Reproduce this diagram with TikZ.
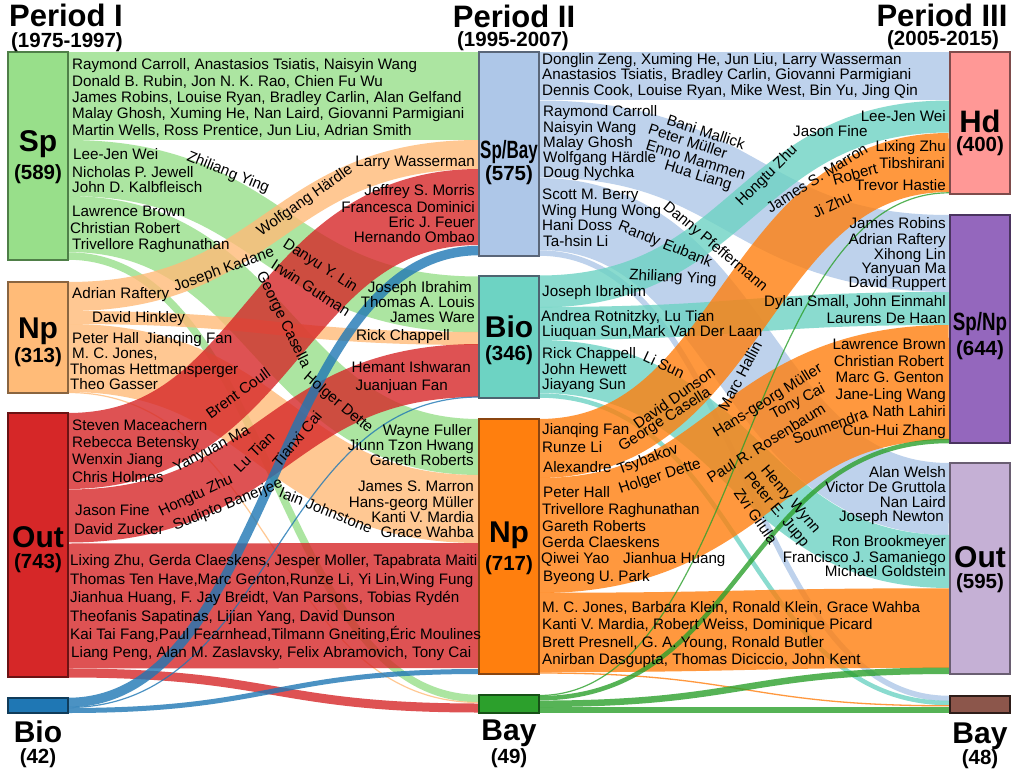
\documentclass[tikz,border=0pt]{standalone}
\usepackage{fontspec}
\setmainfont{Liberation Sans}
\usepackage{graphicx}
\definecolor{cSp}{HTML}{98DF8A}\definecolor{cSpD}{HTML}{4F7F48}
\definecolor{cNpA}{HTML}{FFBB78}\definecolor{cNpAD}{HTML}{8A6540}
\definecolor{cOutA}{HTML}{D62728}\definecolor{cOutAD}{HTML}{6B1314}
\definecolor{cBioA}{HTML}{1F77B4}\definecolor{cBioAD}{HTML}{103C5A}
\definecolor{cSpBay}{HTML}{AEC7E8}\definecolor{cSpBayD}{HTML}{5A6678}
\definecolor{cBioB}{HTML}{6DD3C3}\definecolor{cBioBD}{HTML}{4D6470}
\definecolor{cNpB}{HTML}{FF7F0E}\definecolor{cNpBD}{HTML}{8A4510}
\definecolor{cBayB}{HTML}{2CA02C}\definecolor{cBayBD}{HTML}{175117}
\definecolor{cHd}{HTML}{FF9896}\definecolor{cHdD}{HTML}{7F4C4B}
\definecolor{cSpNp}{HTML}{9467BD}\definecolor{cSpNpD}{HTML}{4A345F}
\definecolor{cOutC}{HTML}{C5B0D5}\definecolor{cOutCD}{HTML}{6A5F72}
\definecolor{cBayC}{HTML}{8C564B}\definecolor{cBayCD}{HTML}{2E1D19}
\tikzset{
 lk/.style={draw opacity=0.8, line cap=butt},
 box/.style={line width=2pt, inner sep=0pt, minimum width=60pt},
 nm/.style={font=\fontsize{15.2}{16}\selectfont, inner sep=0pt, anchor=base west, text=black},
 nmr/.style={nm, anchor=base east},
 rl/.style={font=\fontsize{15.2}{16}\selectfont, inner sep=0pt, anchor=center, text=black},
 big/.style={font=\fontsize{30}{30}\selectfont\bfseries, inner sep=0pt, anchor=base},
 ttl/.style={font=\fontsize{31}{31}\selectfont\bfseries, inner sep=0pt, anchor=base},
 cnt/.style={font=\fontsize{20.5}{21}\selectfont\bfseries, inner sep=0pt, anchor=base},
}
\newcommand\lkA[4]{\draw[lk,#1,line width=#4pt] (68,#2) .. controls (273.5,#2) and (273.5,#3) .. (479,#3);}
\newcommand\lkB[4]{\draw[lk,#1,line width=#4pt] (539,#2) .. controls (744,#2) and (744,#3) .. (949,#3);}
\begin{document}
\begin{tikzpicture}[x=1pt,y=-1pt]
\useasboundingbox (0,0) rectangle (1012,773);
\fill[white] (0,0) rectangle (1012,773);
% ---- links period I -> II
\lkA{cSp}{96}{96}{88}
\lkA{cSp}{168}{304.5}{56}
\lkA{cSp}{224}{447}{56}
\lkA{cSp}{256}{698.5}{7.5}
\lkA{cNpA}{296.5}{154.5}{29}
\lkA{cNpA}{317.5}{338.5}{13}
\lkA{cNpA}{358}{509}{68}
\lkA{cNpA}{392.5}{702.5}{1.2}
\lkA{cOutA}{451}{207}{76}
\lkA{cOutA}{516}{370.5}{53}
\lkA{cOutA}{606}{605.5}{125}
\lkA{cOutA}{673}{708}{9}
\lkA{cBioA}{702.5}{250.5}{9.5}
\lkA{cBioA}{707.5}{397}{1.2}
\lkA{cBioA}{710.5}{671.5}{5}
% ---- links period II -> III
\lkB{cSpBay}{76}{76}{48}
\lkB{cSpBay}{139}{253.5}{77}
\lkB{cSpBay}{214}{499}{72}
\lkB{cSpBay}{253}{698.5}{5.5}
\lkB{cBioB}{291.5}{116.5}{32}
\lkB{cBioB}{323.5}{308.5}{33}
\lkB{cBioB}{366.5}{561.5}{53}
\lkB{cBioB}{395.5}{703}{4.5}
\lkB{cNpB}{448.5}{162.5}{59}
\lkB{cNpB}{535.5}{382.5}{115}
\lkB{cNpB}{632.5}{628}{79.5}
\lkB{cNpB}{673}{705.8}{1.3}
\lkB{cBayB}{695.5}{192.8}{1.2}
\lkB{cBayB}{698.2}{441}{4.5}
\lkB{cBayB}{703.8}{670.8}{6.5}
\lkB{cBayB}{710}{710}{6}
% ---- boxes
\node[box, fill=cSp, draw=cSpD, minimum height=208pt] (sp1) at (38,156) {};
\node[box, fill=cNpA, draw=cNpAD, minimum height=111pt] (np1) at (38,337.5) {};
\node[box, fill=cOutA, draw=cOutAD, minimum height=264pt] (out1) at (38,545) {};
\node[box, fill=cBioA, draw=cBioAD, minimum height=15pt] (bio1) at (38,705.5) {};
\node[box, fill=cSpBay, draw=cSpBayD, minimum height=204pt] (spbay2) at (509,154) {};
\node[box, fill=cBioB, draw=cBioBD, minimum height=122pt] (bio2) at (509,337) {};
\node[box, fill=cNpB, draw=cNpBD, minimum height=255pt] (np2) at (509,546.5) {};
\node[box, fill=cBayB, draw=cBayBD, minimum height=18pt] (bay2) at (509,704) {};
\node[box, fill=cHd, draw=cHdD, minimum height=142pt] (hd3) at (980,123) {};
\node[box, fill=cSpNp, draw=cSpNpD, minimum height=228pt] (spnp3) at (980,329) {};
\node[box, fill=cOutC, draw=cOutCD, minimum height=211pt] (out3) at (980,568.5) {};
\node[box, fill=cBayC, draw=cBayCD, minimum height=17pt] (bay3) at (980,704.5) {};
% ---- titles
\node[ttl] (p1) at (66,27) {Period I};
\node[cnt] (y1) at (67,48) {(1975-1997)};
\node[ttl] (p2) at (514,28) {Period II};
\node[cnt] (y2) at (513,47) {(1995-2007)};
\node[ttl] (p3) at (942,27) {Period III};
\node[cnt] (y3) at (943,46) {(2005-2015)};
% ---- box labels
\node[big] (lsp1) at (38,152) {Sp};
\node[cnt] (csp1) at (38,179) {(589)};
\node[big] (lnp1) at (38,338) {Np};
\node[cnt] (cnp1) at (38,362) {(313)};
\node[big] (lout1) at (38,547) {Out};
\node[cnt] (cout1) at (38,568) {(743)};
\node[big] (lbio1) at (38,742) {Bio};
\node[cnt] (cbio1) at (38,763) {(42)};
\node[big, font=\fontsize{25}{25}\selectfont\bfseries] (lspbay2) at (509,158) {\scalebox{0.68}[1]{Sp/Bay}};
\node[cnt] (cspbay2) at (509,180) {(575)};
\node[big] (lbio2) at (509,337) {Bio};
\node[cnt] (cbio2) at (509,360) {(346)};
\node[big] (lnp2) at (509,542) {Np};
\node[cnt] (cnp2) at (509,570) {(717)};
\node[big] (lbay2) at (509,740) {Bay};
\node[cnt] (cbay2) at (509,763) {(49)};
\node[big, font=\fontsize{31}{31}\selectfont\bfseries] (lhd3) at (980,132) {Hd};
\node[cnt] (chd3) at (980,151) {(400)};
\node[big, font=\fontsize{25}{25}\selectfont\bfseries] (lspnp3) at (980,330) {\scalebox{0.75}[1]{Sp/Np}};
\node[cnt] (cspnp3) at (980,355) {(644)};
\node[big] (lout3) at (980,567) {Out};
\node[cnt] (cout3) at (980,588) {(595)};
\node[big] (lbay3) at (980,743) {Bay};
\node[cnt] (cbay3) at (980,764) {(48)};
% ---- names, period I
\node[nm] (a1) at (72,70) {Raymond Carroll, Anastasios Tsiatis, Naisyin Wang};
\node[nm] (a2) at (72,86.5) {Donald B. Rubin, Jon N. K. Rao, Chien Fu Wu};
\node[nm] (a3) at (72,103) {James Robins, Louise Ryan, Bradley Carlin, Alan Gelfand};
\node[nm] (a4) at (72,119) {Malay Ghosh, Xuming He, Nan Laird, Giovanni Parmigiani};
\node[nm] (a5) at (72,135.5) {Martin Wells, Ross Prentice, Jun Liu, Adrian Smith};
\node[nm] (a6) at (73,160) {Lee-Jen Wei};
\node[nm] (a7) at (72,177) {Nicholas P. Jewell};
\node[nm] (a8) at (72,193) {John D. Kalbfleisch};
\node[nm] (a9) at (72,216) {Lawrence Brown};
\node[nm] (a10) at (70,233) {Christian Robert};
\node[nm] (a11) at (72,249) {Trivellore Raghunathan};
\node[nm] (b1) at (72,298) {Adrian Raftery};
\node[nm] (b2) at (92,322) {David Hinkley};
\node[nm] (b3) at (72,343) {Peter Hall};
\node[nm] (b4) at (145,343) {Jianqing Fan};
\node[nm] (b5) at (72,358) {M. C. Jones,};
\node[nm] (b6) at (70,374) {Thomas Hettmansperger};
\node[nm] (b7) at (70,389) {Theo Gasser};
\node[nm] (c1) at (72,430) {Steven Maceachern};
\node[nm] (c2) at (72,447) {Rebecca Betensky};
\node[nm] (c3) at (72,464) {Wenxin Jiang};
\node[nm] (c4) at (72,482) {Chris Holmes};
\node[nm] (c5) at (75,515) {Jason Fine};
\node[nm] (c6) at (74,534) {David Zucker};
\node[nm] (c7) at (70,565) {Lixing Zhu, Gerda Claeskens, Jesper Moller, Tapabrata Maiti};
\node[nm] (c8) at (70,584) {Thomas Ten Have,Marc Genton,Runze Li, Yi Lin,Wing Fung};
\node[nm] (c9) at (70,602) {Jianhua Huang, F. Jay Breidt, Van Parsons, Tobias Rydén};
\node[nm] (c10) at (70,621) {Theofanis Sapatinas, Lijian Yang, David Dunson};
\node[nm] (c11) at (70,639) {Kai Tai Fang,Paul Fearnhead,Tilmann Gneiting,Éric Moulines};
\node[nm] (c12) at (71,657) {Liang Peng, Alan M. Zaslavsky, Felix Abramovich, Tony Cai};
% ---- names, entering period II
\node[nmr] (d1) at (475,166) {Larry Wasserman};
\node[nmr] (d2) at (475,195) {Jeffrey S. Morris};
\node[nmr] (d3) at (475,212) {Francesca Dominici};
\node[nmr] (d4) at (475,227) {Eric J. Feuer};
\node[nmr] (d5) at (475,242) {Hernando Ombao};
\node[nmr] (d6) at (472,292) {Joseph Ibrahim};
\node[nmr] (d7) at (475,307) {Thomas A. Louis};
\node[nmr] (d8) at (475,322) {James Ware};
\node[nmr] (d9) at (450,340) {Rick Chappell};
\node[nmr] (d10) at (471,372) {Hemant Ishwaran};
\node[nmr] (d11) at (448,390) {Juanjuan Fan};
\node[nmr] (d12) at (472,435) {Wayne Fuller};
\node[nmr] (d13) at (474,450) {Jiunn Tzon Hwang};
\node[nmr] (d14) at (474,465) {Gareth Roberts};
\node[nmr] (d15) at (474,491) {James S. Marron};
\node[nmr] (d16) at (474,507) {Hans-georg Müller};
\node[nmr] (d17) at (474,522) {Kanti V. Mardia};
\node[nmr] (d18) at (474,537) {Grace Wahba};
% ---- names, leaving period II
\node[nm] (e1) at (542,65) {Donglin Zeng, Xuming He, Jun Liu, Larry Wasserman};
\node[nm] (e2) at (542,80) {Anastasios Tsiatis, Bradley Carlin, Giovanni Parmigiani};
\node[nm] (e3) at (542,96) {Dennis Cook, Louise Ryan, Mike West, Bin Yu, Jing Qin};
\node[nm] (e4) at (543,117) {Raymond Carroll};
\node[nm] (e5) at (543,132) {Naisyin Wang};
\node[nm] (e6) at (543,147) {Malay Ghosh};
\node[nm] (e7) at (543,162) {Wolfgang Härdle};
\node[nm] (e8) at (543,177) {Doug Nychka};
\node[nm] (e9) at (542,199) {Scott M. Berry};
\node[nm] (e10) at (542,215) {Wing Hung Wong};
\node[nm] (e11) at (542,230) {Hani Doss};
\node[nm] (e12) at (543,246) {Ta-hsin Li};
\node[nm] (e13) at (542,296) {Joseph Ibrahim};
\node[nm] (e14) at (541,321) {Andrea Rotnitzky, Lu Tian};
\node[nm] (e15) at (542,336) {Liuquan Sun,Mark Van Der Laan};
\node[nm] (e16) at (542,358) {Rick Chappell};
\node[nm] (e17) at (542,374) {John Hewett};
\node[nm] (e18) at (542,389) {Jiayang Sun};
\node[nm] (e19) at (542,434) {Jianqing Fan};
\node[nm] (e20) at (542,452) {Runze Li};
\node[nm] (e21) at (543,472) {Alexandre};
\node[nm] (e22) at (543,497) {Peter Hall};
\node[nm] (e23) at (542,514) {Trivellore Raghunathan};
\node[nm] (e24) at (542,531) {Gareth Roberts};
\node[nm] (e25) at (542,547) {Gerda Claeskens};
\node[nm] (e26) at (541,563) {Qiwei Yao};
\node[nm] (e27) at (623,563) {Jianhua Huang};
\node[nm] (e28) at (543,581) {Byeong U. Park};
\node[nm] (e29) at (542,612) {M. C. Jones, Barbara Klein, Ronald Klein, Grace Wahba};
\node[nm] (e30) at (542,629) {Kanti V. Mardia, Robert Weiss, Dominique Picard};
\node[nm] (e31) at (542,647) {Brett Presnell, G. A. Young, Ronald Butler};
\node[nm] (e32) at (542,664) {Anirban Dasgupta, Thomas Diciccio, John Kent};
% ---- names, entering period III
\node[nmr] (f1) at (946,122) {Lee-Jen Wei};
\node[nm] (f2) at (793,137) {Jason Fine};
\node[nmr] (f3) at (946,152) {Lixing Zhu};
\node[nmr] (f4) at (945,168) {Tibshirani};
\node[nmr] (f5) at (946,190) {Trevor Hastie};
\node[nmr] (f6) at (946,228) {James Robins};
\node[nmr] (f7) at (946,244) {Adrian Raftery};
\node[nmr] (f8) at (946,259) {Xihong Lin};
\node[nmr] (f9) at (946,273) {Yanyuan Ma};
\node[nmr] (f10) at (946,287) {David Ruppert};
\node[nmr] (f11) at (946,306) {Dylan Small, John Einmahl};
\node[nmr] (f12) at (946,323) {Laurens De Haan};
\node[nmr] (f13) at (946,349) {Lawrence Brown};
\node[nmr] (f14) at (944,366) {Christian Robert};
\node[nmr] (f15) at (944,382) {Marc G. Genton};
\node[nmr] (f16) at (946,399) {Jane-Ling Wang};
\node[nmr] (f17) at (946,416) {Nath Lahiri};
\node[nmr] (f18) at (946,435) {Cun-Hui Zhang};
\node[nmr] (f19) at (946,477) {Alan Welsh};
\node[nmr] (f20) at (946,492) {Victor De Gruttola};
\node[nmr] (f21) at (946,507) {Nan Laird};
\node[nmr] (f22) at (944,521) {Joseph Newton};
\node[nmr] (f23) at (946,546) {Ron Brookmeyer};
\node[nmr] (f24) at (946,562) {Francisco J. Samaniego};
\node[nmr] (f25) at (946,576) {Michael Goldstein};
% ---- labels along links, left
\node[rl, rotate=-22] (g1) at (228,173) {Zhiliang Ying};
\node[rl, rotate=35] (g2) at (305,201) {Wolfgang Härdle};
\node[rl, rotate=20] (g3) at (224,270) {Joseph Kadane};
\node[rl, rotate=-33] (g4) at (320,266) {Danyu Y. Lin};
\node[rl, rotate=-33] (g5) at (311,288) {Irwin Gutman};
\node[rl, rotate=-64] (g6) at (283,320) {George Casella};
\node[rl, rotate=36] (g7) at (238,393) {Brent Coull};
\node[rl, rotate=-40] (g8) at (338,403) {Holger Dette};
\node[rl, rotate=28] (g9) at (212,450) {Yanyuan Ma};
\node[rl, rotate=45] (g10) at (254,452) {Lu Tian};
\node[rl, rotate=50] (g11) at (297,439) {Tianxi Cai};
\node[rl, rotate=25] (g12) at (196,496) {Hongtu Zhu};
\node[rl, rotate=22] (g13) at (228,505) {Sudipto Banerjee};
\node[rl, rotate=-22] (g14) at (326,510) {Iain Johnstone};
% ---- labels along links, right
\node[rl, rotate=-18] (h1) at (706,132) {Bani Mallick};
\node[rl, rotate=-18] (h2) at (688,141) {Peter Müller};
\node[rl, rotate=-17] (h3) at (696,160) {Enno Mammen};
\node[rl, rotate=-17] (h4) at (698,176) {Hua Liang};
\node[rl, rotate=-40] (h5) at (715,247) {Danny Pfeffermann};
\node[rl, rotate=-22] (h6) at (665,245) {Randy Eubank};
\node[rl, rotate=-3] (h7) at (673,278) {Zhiliang Ying};
\node[rl, rotate=45] (h8) at (767,176) {Hongtu Zhu};
\node[rl, rotate=32] (h9) at (817,178) {James S. Marron};
\node[rl, rotate=15] (h10) at (855,174) {Robert};
\node[rl, rotate=25] (h11) at (832,205) {Ji Zhu};
\node[rl, rotate=62] (h12) at (740,376) {Marc Hallin};
\node[rl, rotate=32] (h13) at (768,401) {Hans-georg Müller};
\node[rl, rotate=28] (h14) at (798,402) {Tony Cai};
\node[rl, rotate=20] (h15) at (830,426) {Soumendra};
\node[rl, rotate=32] (h16) at (766,443) {Paul R. Rosenbaum};
\node[rl, rotate=-25] (h17) at (664,365) {Li Sun};
\node[rl, rotate=35] (h18) at (674,398) {David Dunson};
\node[rl, rotate=32] (h19) at (665,420) {George Casella};
\node[rl, rotate=20] (h20) at (648,460) {Tsybakov};
\node[rl, rotate=18] (h21) at (660,477) {Holger Dette};
\node[rl, rotate=-50] (h22) at (790,500) {Henry Wynn};
\node[rl, rotate=-50] (h23) at (776,510) {Peter E. Jupp};
\node[rl, rotate=-55] (h24) at (756,516) {Zvi Gilula};
\end{tikzpicture}
\end{document}
